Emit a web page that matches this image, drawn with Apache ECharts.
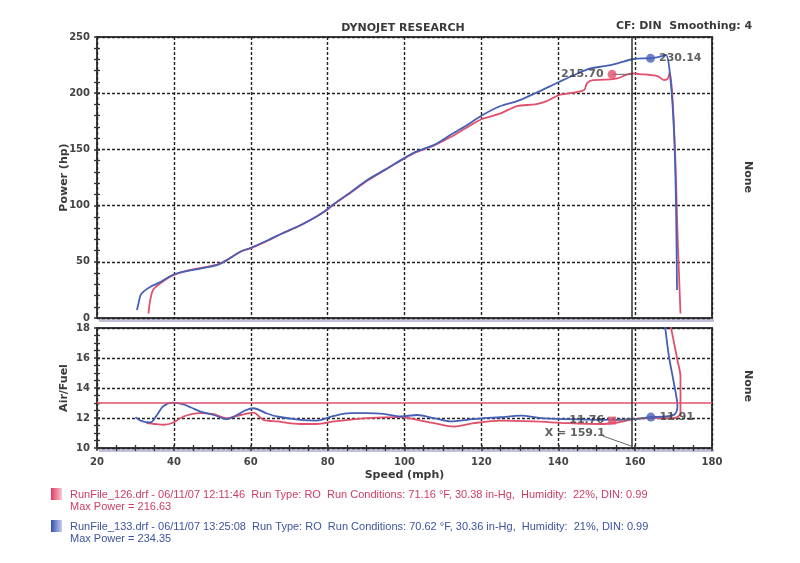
<!DOCTYPE html>
<html><head><meta charset="utf-8">
<script src="https://cdn.jsdelivr.net/npm/echarts@6/dist/echarts.min.js"></script>
<style>html,body{margin:0;padding:0;background:#fff}#c{width:800px;height:563px}</style>
</head><body><div id="c"></div>
<script>
// ---- text ----
const chartTitle = 'DYNOJET RESEARCH';
const chartSubtitle = 'CF: DIN  Smoothing: 4';
const sideLabel = 'None';
const xName = 'Speed (mph)';
const powerName = 'Power (hp)';
const afrName = 'Air/Fuel';
const legend126 = ['RunFile_126.drf - 06/11/07 12:11:46  Run Type: RO  Run Conditions: 71.16 °F, 30.38 in-Hg,  Humidity:  22%, DIN: 0.99', 'Max Power = 216.63'];
const legend133 = ['RunFile_133.drf - 06/11/07 13:25:08  Run Type: RO  Run Conditions: 70.62 °F, 30.36 in-Hg,  Humidity:  21%, DIN: 0.99', 'Max Power = 234.35'];

// ---- axes ----
const speedRange = [20, 180, 20];
const powerRange = [0, 250, 50];
const afrRange = [10, 18, 2];

// ---- data: [speed mph, value] ----
const power126 = [[33.4,4],[33.8,15],[34.6,25],[36.5,31],[39.8,38],[43,41.8],[46.9,44.5],[51.2,47.5],[53.8,51.5],[57.3,59],[60,62],[64.3,68.5],[68,75],[73,82.5],[77,90],[80,96.5],[81.6,101],[86,111.5],[90.3,122],[95,132],[99.8,141.5],[103,147.5],[107.7,153.5],[112,161],[116,169],[120,176.8],[125,182],[129.3,188.6],[134,190],[137,193],[140.2,198.4],[143,200],[146.7,202.8],[147.5,209],[149,211.7],[152,212],[155.4,213.2],[157.5,216],[159.3,217.7],[161,217],[164,216.2],[166,215],[167.5,211.7],[168.5,213],[169,218.2],[169.7,197],[170.5,138],[171,78],[171.4,40],[171.8,4]];
const power133 = [[30.4,7],[30.8,13],[31.3,20],[32.1,23.4],[33.9,27.8],[36.5,32],[39.8,38.5],[43,41.5],[46.9,44],[51.2,47],[53.8,51.6],[57.3,59],[60,62.5],[64.3,69],[68,75],[73,82.7],[77,90],[80,97],[81.6,101.5],[86,112],[90.3,122.8],[95,132],[99.8,142],[103,148],[107.7,154],[112,163],[116,171],[120,180],[125,188.6],[129.3,193],[134,200],[140.2,210],[144,216],[148.4,222],[152,224],[155.4,226.6],[159.3,230.2],[162,231],[164,231],[166,232],[168,234],[169.2,212],[170.1,167],[170.6,108],[170.9,25]];
const afr126 = [[32.9,11.66],[35,11.6],[37.3,11.55],[39.9,11.7],[42.5,12.1],[46.9,12.32],[50.4,12.25],[53.8,11.99],[57.3,12.2],[60.7,12.36],[63.3,11.88],[66.8,11.77],[72.9,11.6],[77.2,11.6],[81.6,11.77],[90.3,11.99],[99,12.06],[103.3,11.88],[107.7,11.66],[112.9,11.43],[118.1,11.66],[125,11.83],[133.7,11.77],[142.4,11.66],[151,11.6],[155.4,11.7],[159.7,11.92],[164,11.99],[170.1,11.99],[171.8,12.32],[171.8,14.75],[171,15.86],[169.3,18.07]];
const afr133 = [[30,12.06],[31.3,11.83],[33.9,11.7],[35.6,12.2],[37.3,12.8],[39.9,13.02],[42.5,12.9],[44.5,12.7],[46.9,12.43],[50.4,12.2],[53.8,11.92],[56.4,12.2],[58.5,12.5],[60.7,12.65],[64.2,12.3],[66.8,12.1],[72.9,11.88],[77.2,11.83],[81.6,12.14],[85.9,12.32],[90.3,12.32],[94.6,12.27],[99,12.1],[103.3,12.2],[107.7,11.99],[112,11.77],[116.4,11.88],[120.7,11.99],[125,12.05],[130.3,12.16],[135.5,11.99],[142.4,11.92],[151,11.88],[159.7,11.92],[164,12.06],[168,12.1],[170.3,12.25],[171,12.8],[170.1,14.3],[168.8,16.1],[167.8,18.1]];

const cursorSpeed = 159.1;
const cursorLabel = 'X = 159.1';
const cursorLabelPos = [144.3, 11.02];
const cursorLeader = [[151.6, 10.8], [159.1, 10.12]];
const afrTarget = 13;
const powerMark126 = {pos: [154, 216.8], text: '215.70', leader: [[154, 216.8], [159.1, 216.8]]};
const powerMark133 = {pos: [164, 231], text: '230.14'};
const afrMark126 = {pos: [154, 11.83], text: '11.76', leader: [[154, 11.83], [159.1, 11.92], [164, 12.04]]};
const afrMark133 = {pos: [164.1, 12.06], text: '11.91'};

// ---- style ----
const RED = '#e0506c', BLUE = '#4660b6', INK = '#3a3a3a';
const RED_TXT = '#cc3d62', BLUE_TXT = '#3d539f';
const FONT = 'DejaVu Sans';

const gridStyle = {show: true, borderColor: '#3c3c3c', borderWidth: 2, backgroundColor: 'transparent'};
const split = {show: true, lineStyle: {color: '#222', type: [3, 2], width: 1.4}};

function xAx(grid, labels, ticksInside) {
  return {type: 'value', gridIndex: grid, position: 'bottom', min: speedRange[0], max: speedRange[1], interval: speedRange[2],
    axisLine: {show: false}, splitLine: labels === null ? {show: false} : split,
    axisTick: {show: grid === 1, inside: ticksInside, length: 3, lineStyle: {color: '#333', width: 1.5}},
    minorTick: {show: grid === 1, splitNumber: 4, length: 3, lineStyle: {color: '#333', width: 1.3}},
    axisLabel: {show: !!labels, margin: 9, color: '#444', fontFamily: FONT, fontWeight: 'bold', fontSize: 10},
    name: labels ? xName : '', nameLocation: 'middle', nameGap: 22, nameMoveOverlap: false,
    nameTextStyle: {color: INK, fontFamily: FONT, fontWeight: 'bold', fontSize: 11}};
}
function yAx(grid, range, name, minor, main, ticksInside) {
  return {type: 'value', gridIndex: grid, position: 'left', min: range[0], max: range[1], interval: range[2],
    axisLine: {show: false}, splitLine: main ? split : {show: false},
    axisTick: {show: true, inside: ticksInside, length: 3, lineStyle: {color: '#333', width: 1.5}},
    minorTick: {show: true, splitNumber: minor, length: 3, lineStyle: {color: '#333', width: 1.3}},
    axisLabel: {show: main, margin: 7, color: '#444', fontFamily: FONT, fontWeight: 'bold', fontSize: 10},
    name: main ? name : '', nameLocation: 'middle', nameGap: 27, nameMoveOverlap: false,
    nameTextStyle: {color: INK, fontFamily: FONT, fontWeight: 'bold', fontSize: 11}};
}

const lineS = (data, color, x, y, extra) => Object.assign({type: 'line', data, xAxisIndex: x, yAxisIndex: y,
  showSymbol: false, symbol: 'none', smooth: 0.3, lineStyle: {color, width: 1.8}, itemStyle: {color}, z: 3, animation: false}, extra || {});
const cursorMark = {silent: true, symbol: 'none', label: {show: false},
  lineStyle: {color: '#333', width: 1.5, type: 'solid'}, data: [{xAxis: cursorSpeed}]};
const markLbl = (pos) => ({show: true, position: pos, distance: 4, color: INK, fontFamily: FONT, fontWeight: 'bold', fontSize: 11, formatter: p => p.data.t});
const thin = (data, x, y) => ({type: 'line', data, xAxisIndex: x, yAxisIndex: y, symbol: 'none',
  lineStyle: {color: '#666', width: 1}, z: 4, animation: false});
const shadowBand = (y) => ({type: 'rect', z: -1, shape: {x: 99, y: y, width: 615, height: 3}, style: {fill: 'rgba(140,140,190,0.55)'}});

const option = {
  animation: false,
  grid: [
    Object.assign({left: 97, right: 88, top: 37, height: 281}, gridStyle),
    Object.assign({left: 97, right: 88, top: 328, height: 120}, gridStyle)
  ],
  xAxis: [xAx(0, false, true), xAx(1, true, true), xAx(1, null, false)],
  yAxis: [yAx(0, powerRange, powerName, 5, true, true), yAx(1, afrRange, afrName, 4, true, true),
          yAx(0, powerRange, '', 5, false, false), yAx(1, afrRange, '', 4, false, false)],
  series: [
    lineS(power126, RED, 0, 0),
    lineS(power133, BLUE, 0, 0, {markLine: cursorMark}),
    thin(powerMark126.leader, 0, 0),
    {type: 'scatter', xAxisIndex: 0, yAxisIndex: 0, symbolSize: 9, z: 6, animation: false,
      data: [{value: powerMark126.pos, t: powerMark126.text, itemStyle: {color: RED}, label: markLbl('left')},
             {value: powerMark133.pos, t: powerMark133.text, itemStyle: {color: BLUE}, label: markLbl('right')}]},
    lineS(afr126, RED, 1, 1, {markLine: {silent: true, symbol: 'none', label: {show: false},
      lineStyle: {color: RED, width: 1.5, type: 'solid'}, data: [{yAxis: afrTarget}]}}),
    lineS(afr133, BLUE, 1, 1, {markLine: cursorMark}),
    thin(afrMark126.leader, 1, 1),
    thin(cursorLeader, 1, 1),
    {type: 'scatter', xAxisIndex: 1, yAxisIndex: 1, z: 6, animation: false,
      data: [{value: afrMark126.pos, t: afrMark126.text, symbol: 'rect', symbolSize: 8, itemStyle: {color: RED}, label: markLbl('left')},
             {value: afrMark133.pos, t: afrMark133.text, symbol: 'circle', symbolSize: 9, itemStyle: {color: BLUE}, label: markLbl('right')},
             {value: cursorLabelPos, t: cursorLabel, symbolSize: 0, label: Object.assign(markLbl('inside'), {distance: 0})}]}
  ],
  graphic: [
    shadowBand(319), shadowBand(449),
    {type: 'text', x: 403, y: 28, style: {text: chartTitle, align: 'center', verticalAlign: 'middle', font: 'bold 11px "' + FONT + '"', fill: INK}},
    {type: 'text', x: 616, y: 26, style: {text: chartSubtitle, align: 'left', verticalAlign: 'middle', font: 'bold 11px "' + FONT + '"', fill: INK}},
    {type: 'text', x: 748, y: 177, rotation: -Math.PI / 2, style: {text: sideLabel, align: 'center', verticalAlign: 'middle', font: 'bold 11px "' + FONT + '"', fill: INK}},
    {type: 'text', x: 748, y: 386, rotation: -Math.PI / 2, style: {text: sideLabel, align: 'center', verticalAlign: 'middle', font: 'bold 11px "' + FONT + '"', fill: INK}},
    {type: 'rect', shape: {x: 51, y: 488, width: 11, height: 12}, style: {fill: new echarts.graphic.LinearGradient(0, 0, 1, 0, [{offset: 0, color: '#e03a5e'}, {offset: 1, color: '#f6c8d2'}])}},
    {type: 'rect', shape: {x: 51, y: 520, width: 11, height: 12}, style: {fill: new echarts.graphic.LinearGradient(0, 0, 1, 0, [{offset: 0, color: '#3550b0'}, {offset: 1, color: '#c4ccea'}])}},
    {type: 'text', x: 70, y: 495, style: {text: legend126[0], verticalAlign: 'middle', font: '11px "Liberation Sans"', fill: RED_TXT}},
    {type: 'text', x: 70, y: 507, style: {text: legend126[1], verticalAlign: 'middle', font: '11px "Liberation Sans"', fill: RED_TXT}},
    {type: 'text', x: 70, y: 527, style: {text: legend133[0], verticalAlign: 'middle', font: '11px "Liberation Sans"', fill: BLUE_TXT}},
    {type: 'text', x: 70, y: 539, style: {text: legend133[1], verticalAlign: 'middle', font: '11px "Liberation Sans"', fill: BLUE_TXT}}
  ]
};
const chart = echarts.init(document.getElementById('c'), null, {renderer: 'canvas'});
chart.setOption(option);
</script></body></html>
